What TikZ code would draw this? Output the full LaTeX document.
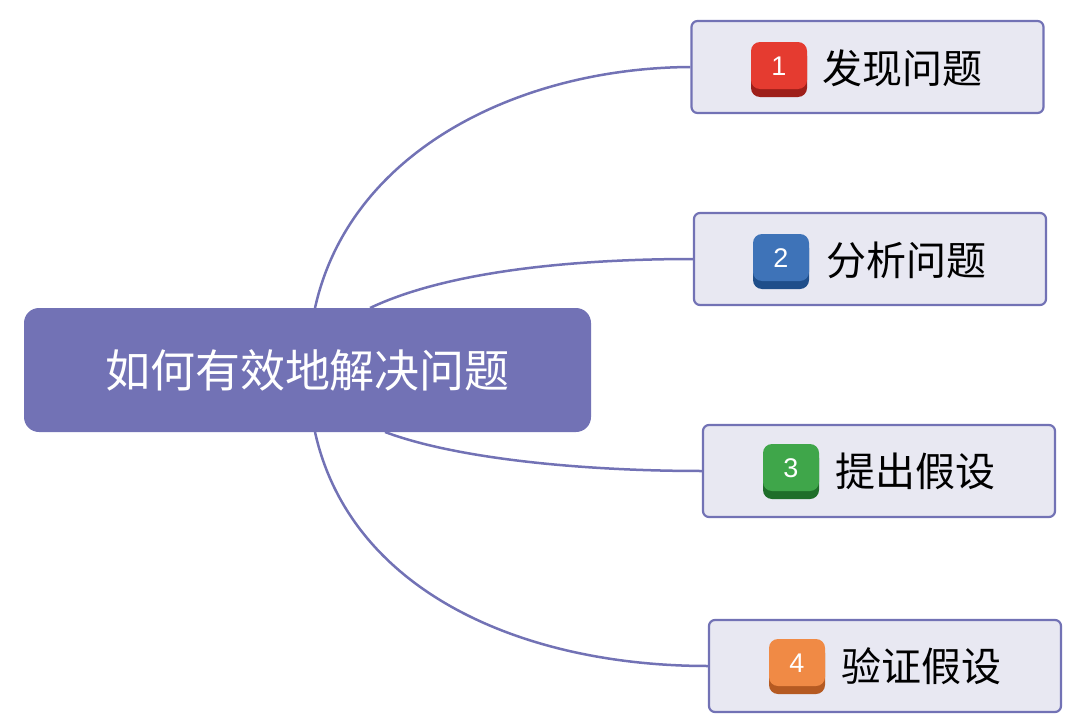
\documentclass[tikz,border=0pt]{standalone}
\usepackage{fontspec}
\setmainfont{Noto Sans CJK SC}
\newfontfamily\numfont{Liberation Sans}
\usetikzlibrary{calc}
\definecolor{main}{HTML}{7272B5}
\definecolor{boxfill}{HTML}{E8E8F2}
\definecolor{rA}{HTML}{E53B30}\definecolor{rB}{HTML}{9E1F1A}
\definecolor{bA}{HTML}{3E73B8}\definecolor{bB}{HTML}{1F4E8A}
\definecolor{gA}{HTML}{3FA64A}\definecolor{gB}{HTML}{1F6E2A}
\definecolor{oA}{HTML}{F08A45}\definecolor{oB}{HTML}{B55A22}
\tikzset{
 topic/.style={draw=main,line width=2.2pt,fill=boxfill,rounded corners=6pt,minimum width=352pt,minimum height=92pt},
 conn/.style={draw=main,line width=2.5pt},
 lbl/.style={font=\fontsize{40pt}{46pt}\selectfont,anchor=west,inner sep=0},
 num/.style={font=\fontsize{27pt}{30pt}\selectfont\numfont,text=white}
}
\begin{document}
\begin{tikzpicture}[x=1pt,y=-1pt]
\useasboundingbox (0,0) rectangle (1080,728);
\node[fill=main,rounded corners=15pt,minimum width=567pt,minimum height=124pt,text=white,font=\fontsize{45pt}{50pt}\selectfont] (c) at (307.5,370) {如何有效地解决问题};
\node[topic] (t1) at (867.5,67) {};
\node[topic] (t2) at (870,259) {};
\node[topic] (t3) at (879,471) {};
\node[topic] (t4) at (885,666) {};
\coordinate (c1) at (315,308);
\coordinate (c2) at (370,308);
\coordinate (c3) at (385,432);
\coordinate (c4) at (315,432);
\draw[conn] (c1) .. controls (350,150) and (520,68) .. (t1.west);
\draw[conn] (c2) .. controls (450,270) and (580,259) .. (t2.west);
\draw[conn] (c3) .. controls (460,460) and (590,471) .. (t3.west);
\draw[conn] (c4) .. controls (350,590) and (520,666) .. (t4.west);
\coordinate (i1) at (779,69);
\coordinate (i2) at (781,261);
\coordinate (i3) at (791,471);
\coordinate (i4) at (797,666);
\fill[rB,rounded corners=9pt] ($(i1)+(-28,-22)$) rectangle ($(i1)+(28,28)$);
\fill[rA,rounded corners=9pt] ($(i1)+(-28,-27)$) rectangle ($(i1)+(28,20)$);
\fill[bB,rounded corners=9pt] ($(i2)+(-28,-22)$) rectangle ($(i2)+(28,28)$);
\fill[bA,rounded corners=9pt] ($(i2)+(-28,-27)$) rectangle ($(i2)+(28,20)$);
\fill[gB,rounded corners=9pt] ($(i3)+(-28,-22)$) rectangle ($(i3)+(28,28)$);
\fill[gA,rounded corners=9pt] ($(i3)+(-28,-27)$) rectangle ($(i3)+(28,20)$);
\fill[oB,rounded corners=9pt] ($(i4)+(-28,-22)$) rectangle ($(i4)+(28,28)$);
\fill[oA,rounded corners=9pt] ($(i4)+(-28,-27)$) rectangle ($(i4)+(28,20)$);
\node[num] (n1) at ($(i1)+(0,-3)$) {1};
\node[num] (n2) at ($(i2)+(0,-3)$) {2};
\node[num] (n3) at ($(i3)+(0,-3)$) {3};
\node[num] (n4) at ($(i4)+(0,-3)$) {4};
\node[lbl] (l1) at (822,68) {发现问题};
\node[lbl] (l2) at (826,260) {分析问题};
\node[lbl] (l3) at (835,471) {提出假设};
\node[lbl] (l4) at (841,666) {验证假设};
\end{tikzpicture}
\end{document}
